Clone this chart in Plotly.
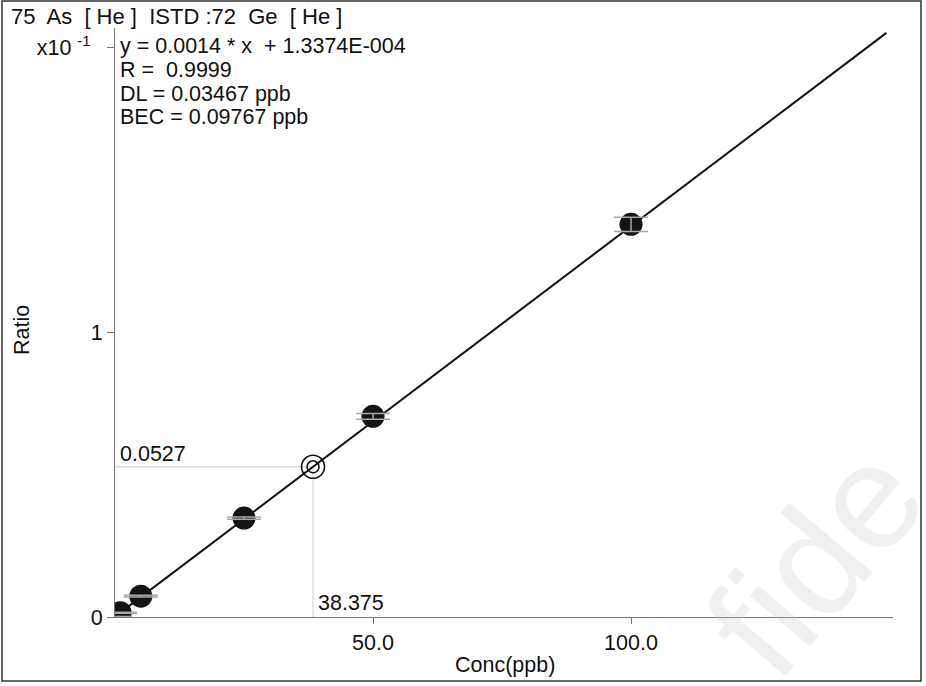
import plotly.graph_objects as go

# ---- data ----
std_conc = [0, 1, 5, 25, 50, 100]
std_ratio = [0.0001, 0.0015, 0.0073, 0.0347, 0.0704, 0.1378]
std_err = [0.0001, 0.0002, 0.0003, 0.0004, 0.0010, 0.0025]

slope = 0.00137
intercept = 1.3374e-4
fit_x = [0, 149.5]

unk_conc = [38.375]
unk_ratio = [0.0527]

y_tickvals = [0, 0.1, 0.2]
y_ticktext = ["0", "1", "x10 <sup>-1</sup>\u00a0\u00a0"]
x_tickvals = [50, 100]
x_ticktext = ["50.0", "100.0"]

title_text = "75  As  [ He ]  ISTD :72  Ge  [ He ]"
fit_lines = ["y = 0.0014 * x  + 1.3374E-004", "R =  0.9999",
             "DL = 0.03467 ppb", "BEC = 0.09767 ppb"]

# ---- layout geometry (pixels) ----
W, H = 926, 686
L, R, T, B = 115, 893, 28, 617
pw, ph = R - L, B - T
def px(x): return (x - L) / pw
def py(y): return (B - y) / ph

FONT = "Liberation Sans, Arial, sans-serif"
FS = 21.5

fit_y = [slope * x + intercept for x in fit_x]

fig = go.Figure()

# unknown reference lines
fig.add_trace(go.Scatter(x=[0, unk_conc[0]], y=[unk_ratio[0], unk_ratio[0]], mode="lines",
                         line=dict(color="#cccccc", width=1), hoverinfo="skip", showlegend=False))
fig.add_trace(go.Scatter(x=[unk_conc[0], unk_conc[0]], y=[0, unk_ratio[0]], mode="lines",
                         line=dict(color="#cccccc", width=1), hoverinfo="skip", showlegend=False))

# fit line
fig.add_trace(go.Scatter(x=fit_x, y=fit_y, mode="lines",
                         line=dict(color="#111111", width=2), showlegend=False))

# standards
fig.add_trace(go.Scatter(x=std_conc, y=std_ratio, mode="markers",
                         marker=dict(size=23, color="#141414", line=dict(width=0)),
                         cliponaxis=True, showlegend=False))
# error bars on top
fig.add_trace(go.Scatter(x=std_conc, y=std_ratio, mode="markers",
                         marker=dict(size=1, color="rgba(0,0,0,0)"),
                         error_y=dict(type="data", array=std_err, color="#a8a8a8",
                                      thickness=1.5, width=17),
                         cliponaxis=True, showlegend=False))

# unknown sample double circle
fig.add_trace(go.Scatter(x=unk_conc, y=unk_ratio, mode="markers",
                         marker=dict(size=23, symbol="circle-open", color="#111111",
                                     line=dict(width=1.6)), showlegend=False))
fig.add_trace(go.Scatter(x=unk_conc, y=unk_ratio, mode="markers",
                         marker=dict(size=12, symbol="circle-open", color="#111111",
                                     line=dict(width=1.6)), showlegend=False))

ann = []
ann.append(dict(text=title_text, x=px(9), y=py(17), xref="paper", yref="paper",
                xanchor="left", yanchor="middle", showarrow=False,
                font=dict(family=FONT, size=22, color="#111")))
for i, t in enumerate(fit_lines):
    ann.append(dict(text=t, x=px(118), y=py(46 + 23.8 * i), xref="paper", yref="paper",
                    xanchor="left", yanchor="middle", showarrow=False,
                    font=dict(family=FONT, size=FS, color="#111")))
ann.append(dict(text=f"{unk_ratio[0]:.4f}", x=0, y=unk_ratio[0], xref="x", yref="y",
                xanchor="left", yanchor="bottom", xshift=3, yshift=-1, showarrow=False,
                font=dict(family=FONT, size=FS, color="#111")))
ann.append(dict(text=f"{unk_conc[0]:.3f}", x=unk_conc[0], y=0, xref="x", yref="y",
                xanchor="left", yanchor="bottom", xshift=3, yshift=0, showarrow=False,
                font=dict(family=FONT, size=FS, color="#111")))
ann.append(dict(text="Ratio", x=px(22), y=py(330), xref="paper", yref="paper",
                textangle=-90, showarrow=False, xanchor="center", yanchor="middle",
                font=dict(family=FONT, size=FS, color="#111")))
ann.append(dict(text="Conc(ppb)", x=px(505), y=py(665), xref="paper", yref="paper",
                showarrow=False, xanchor="center", yanchor="middle",
                font=dict(family=FONT, size=FS, color="#111")))
# watermark
ann.append(dict(text="fide", x=px(815), y=py(560), xref="paper", yref="paper",
                textangle=-50, showarrow=False, xanchor="center", yanchor="middle",
                font=dict(family=FONT, size=150, color="rgba(200,200,200,0.28)")))

fig.update_layout(
    width=W, height=H,
    margin=dict(l=L, r=W - R, t=T, b=H - B),
    paper_bgcolor="white", plot_bgcolor="white",
    annotations=ann,
    shapes=[dict(type="rect", xref="paper", yref="paper",
                 x0=px(2), x1=px(921), y0=py(681), y1=py(1),
                 line=dict(color="#333", width=1.5), layer="below")],
    xaxis=dict(range=[0, (R - L) / 5.16], showgrid=False, zeroline=False,
               showline=True, linecolor="#777", linewidth=1,
               tickvals=x_tickvals, ticktext=x_ticktext, ticks="outside",
               ticklen=6, tickcolor="#777",
               tickfont=dict(family=FONT, size=FS, color="#111")),
    yaxis=dict(range=[0, 0.1 * (B - T) / 285], showgrid=False, zeroline=False,
               showline=True, linecolor="#777", linewidth=1,
               tickvals=y_tickvals, ticktext=y_ticktext, ticks="outside",
               ticklen=7, tickcolor="#777",
               tickfont=dict(family=FONT, size=FS, color="#111")),
)

fig.write_html("out.html")
